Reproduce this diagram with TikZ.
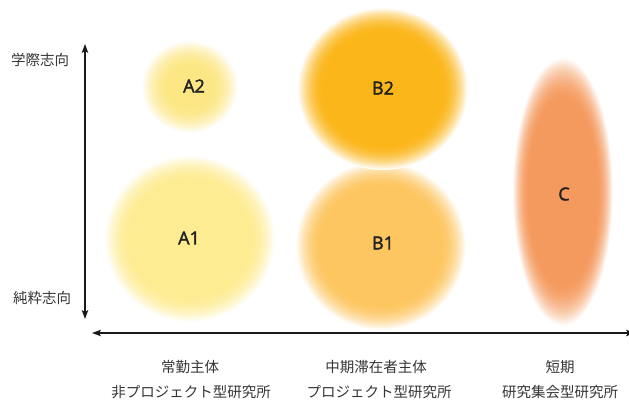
\documentclass[tikz,border=0pt]{standalone}
\usepackage{fontspec}
\setmainfont{Noto Sans CJK JP}
\newfontfamily\latinlbl[FakeBold=2]{Open Sans}
\usetikzlibrary{arrows.meta}
\definecolor{colA2}{HTML}{FCE784}
\definecolor{colA1}{HTML}{FEEC93}
\definecolor{colB2}{HTML}{FBB619}
\definecolor{colB1}{HTML}{FDC660}
\definecolor{colC}{HTML}{F59A5E}
\definecolor{txt}{HTML}{353535}
\definecolor{lbltxt}{HTML}{222222}
% fuzzy blob: centre x, centre y, x radius, y radius, colour, core fraction
\newcommand\fuzzblob[6]{%
  \foreach \i in {0,...,29}{%
    \pgfmathsetmacro\tt{1-\i*(1-#6)/30}%
    \pgfmathsetmacro\ss{(\i+0.5)/30}%
    \pgfmathsetmacro\pp{100*(1-(1-\ss)*(1-\ss))}%
    \fill[#5!\pp!white] (#1,#2) ellipse [x radius=#3*\tt, y radius=#4*\tt];
  }%
  \fill[#5] (#1,#2) ellipse [x radius=#3*#6, y radius=#4*#6];
}
\tikzset{
  lbl/.style={font=\latinlbl\fontsize{18}{18}\selectfont, text=lbltxt, inner sep=0pt},
  jp/.style={font=\fontsize{14.5}{14.5}\selectfont, text=txt, inner sep=0pt},
  axis/.style={line width=1.2pt, black!90, {Stealth[length=9pt,width=6.5pt,inset=2pt]}-{Stealth[length=9pt,width=6.5pt,inset=2pt]}}
}
\begin{document}
\begin{tikzpicture}[x=1pt,y=-1pt]
\useasboundingbox (0,0) rectangle (629,399);
% blobs
\fuzzblob{190}{87}{48}{46}{colA2}{0.4}
\fuzzblob{190}{239}{85}{83}{colA1}{0.68}
\fuzzblob{381}{246}{85}{84}{colB1}{0.68}
\fuzzblob{383}{89}{85}{81}{colB2}{0.68}
\fuzzblob{563}{192}{50}{134}{colC}{0.66}
% blob labels
\node[lbl] (a2) at (194,86) {A2};
\node[lbl] (a1) at (189,238) {A1};
\node[lbl] (b2) at (383,88) {B2};
\node[lbl] (b1) at (383,243) {B1};
\node[lbl] (c) at (564,194) {C};
% axes
\coordinate (vtop) at (85,44);
\coordinate (vbot) at (85,319);
\coordinate (hleft) at (92,333);
\coordinate (hright) at (635,333);
\draw[axis] (vbot) -- (vtop);
\draw[axis] (hright) -- (hleft);
% axis labels
\node[jp] (up) at (40,60) {学際志向};
\node[jp] (down) at (42,298) {純粋志向};
\node[jp] (x1a) at (190,367) {常勤主体};
\node[jp] (x1b) at (191,392) {非プロジェクト型研究所};
\node[jp] (x2a) at (376,367) {中期滞在者主体};
\node[jp] (x2b) at (379,392) {プロジェクト型研究所};
\node[jp] (x3a) at (560,367) {短期};
\node[jp] (x3b) at (560,392) {研究集会型研究所};
\end{tikzpicture}
\end{document}
